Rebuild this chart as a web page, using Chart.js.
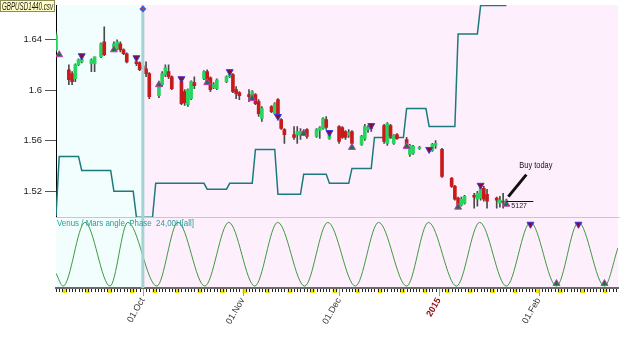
<!DOCTYPE html>
<html>
<head>
<meta charset="utf-8">
<script src="https://cdn.jsdelivr.net/npm/chart.js@4.4.1/dist/chart.umd.min.js"></script>
<style>
  html, body { margin: 0; padding: 0; background: #fff; }
  #wrap { width: 625px; height: 343px; position: relative; }
</style>
</head>
<body>
<div id="wrap"><canvas id="chart"></canvas></div>
<script>
/* ------------------------------
   Data
   ------------------------------ */
const candleDates = [
  '2014-09-04','2014-09-08','2014-09-09','2014-09-10','2014-09-11','2014-09-12','2014-09-15','2014-09-16',
  '2014-09-18','2014-09-19','2014-09-22','2014-09-23','2014-09-24','2014-09-25','2014-09-26','2014-09-29',
  '2014-09-30','2014-10-01','2014-10-02','2014-10-03','2014-10-06','2014-10-07','2014-10-08','2014-10-09',
  '2014-10-10','2014-10-13','2014-10-14','2014-10-15','2014-10-16','2014-10-17','2014-10-20','2014-10-21',
  '2014-10-22','2014-10-23','2014-10-24','2014-10-27','2014-10-28','2014-10-29','2014-10-30','2014-10-31',
  '2014-11-03','2014-11-04','2014-11-05','2014-11-06','2014-11-07','2014-11-10','2014-11-11','2014-11-12',
  '2014-11-13','2014-11-14','2014-11-17','2014-11-18','2014-11-19','2014-11-20','2014-11-21','2014-11-24',
  '2014-11-25','2014-11-26','2014-11-27','2014-11-28','2014-12-01','2014-12-02','2014-12-03','2014-12-04',
  '2014-12-05','2014-12-08','2014-12-09','2014-12-10','2014-12-11','2014-12-15','2014-12-16','2014-12-17',
  '2014-12-18','2014-12-19','2014-12-22','2014-12-23','2014-12-24','2014-12-26','2014-12-30','2014-12-31',
  '2015-01-02','2015-01-05','2015-01-06','2015-01-07','2015-01-08','2015-01-09','2015-01-12','2015-01-13',
  '2015-01-14','2015-01-15','2015-01-16','2015-01-19','2015-01-20','2015-01-21','2015-01-22'
];
const openP = [
  1.6321,1.6163,1.6132,1.6092,1.6203,1.6226,1.6211,1.6211,
  1.6266,1.6384,1.6345,1.6329,1.6368,1.6321,1.6290,1.6226,
  1.6218,1.6195,1.6171,1.6132,1.5958,1.6045,1.6124,1.6148,
  1.6108,1.6069,1.5990,1.5887,1.5935,1.6061,1.6092,1.6148,
  1.6100,1.6021,1.6013,1.6069,1.6108,1.6124,1.6006,1.5982,
  1.5966,1.5950,1.5966,1.5911,1.5777,1.5871,1.5816,1.5927,
  1.5769,1.5690,1.5650,1.5650,1.5643,1.5674,1.5690,1.5635,
  1.5682,1.5698,1.5769,1.5619,1.5714,1.5706,1.5674,1.5643,
  1.5674,1.5572,1.5619,1.5690,1.5706,1.5722,1.5579,1.5722,
  1.5579,1.5650,1.5611,1.5493,1.5501,1.5540,1.5524,1.5564,
  1.5532,1.5303,1.5240,1.5146,1.5090,1.5106,1.5169,1.5138,
  1.5146,1.5224,1.5177,1.5146,1.5106,1.5122,1.5114
];
const highP = [
  1.6463,1.6203,1.6148,1.6211,1.6250,1.6258,1.6250,1.6266,
  1.6376,1.6503,1.6384,1.6400,1.6384,1.6329,1.6297,1.6234,
  1.6226,1.6211,1.6226,1.6140,1.6037,1.6148,1.6203,1.6203,
  1.6116,1.6076,1.6006,1.6013,1.6076,1.6108,1.6156,1.6163,
  1.6108,1.6061,1.6092,1.6116,1.6163,1.6132,1.6029,1.5990,
  1.6006,1.5998,1.5974,1.5927,1.5871,1.5879,1.5903,1.5935,
  1.5777,1.5698,1.5714,1.5714,1.5698,1.5690,1.5698,1.5698,
  1.5714,1.5785,1.5793,1.5658,1.5722,1.5714,1.5682,1.5690,
  1.5682,1.5643,1.5730,1.5722,1.5722,1.5730,1.5745,1.5730,
  1.5650,1.5658,1.5627,1.5572,1.5564,1.5556,1.5580,1.5603,
  1.5540,1.5311,1.5248,1.5154,1.5154,1.5169,1.5185,1.5201,
  1.5232,1.5240,1.5217,1.5154,1.5161,1.5185,1.5138
];
const lowP = [
  1.6305,1.6045,1.6045,1.6069,1.6195,1.6218,1.6148,1.6148,
  1.6258,1.6274,1.6337,1.6321,1.6305,1.6282,1.6218,1.6195,
  1.6156,1.6148,1.6108,1.5935,1.5943,1.6029,1.6108,1.6092,
  1.6006,1.5887,1.5880,1.5872,1.5927,1.6013,1.6084,1.6045,
  1.5990,1.6013,1.6006,1.6061,1.6100,1.5982,1.5935,1.5927,
  1.5911,1.5943,1.5887,1.5793,1.5753,1.5824,1.5808,1.5800,
  1.5690,1.5579,1.5611,1.5579,1.5611,1.5650,1.5619,1.5627,
  1.5619,1.5690,1.5690,1.5611,1.5579,1.5619,1.5611,1.5627,
  1.5572,1.5564,1.5603,1.5666,1.5674,1.5579,1.5564,1.5619,
  1.5572,1.5611,1.5564,1.5477,1.5493,1.5532,1.5516,1.5540,
  1.5311,1.5232,1.5130,1.5067,1.5083,1.5098,1.5067,1.5083,
  1.5130,1.5122,1.5067,1.5067,1.5075,1.5067,1.5106
];
const closeP = [
  1.6439,1.6084,1.6069,1.6203,1.6242,1.6250,1.6242,1.6266,
  1.6368,1.6282,1.6368,1.6384,1.6321,1.6290,1.6226,1.6211,
  1.6163,1.6171,1.6132,1.5950,1.6029,1.6132,1.6179,1.6108,
  1.6013,1.5895,1.5903,1.6006,1.6069,1.6037,1.6148,1.6069,
  1.6006,1.6045,1.6084,1.6108,1.6140,1.5990,1.5974,1.5958,
  1.5950,1.5990,1.5895,1.5816,1.5856,1.5832,1.5895,1.5808,
  1.5698,1.5650,1.5627,1.5674,1.5674,1.5658,1.5635,1.5690,
  1.5706,1.5777,1.5706,1.5650,1.5595,1.5627,1.5627,1.5666,
  1.5579,1.5635,1.5714,1.5706,1.5698,1.5595,1.5737,1.5635,
  1.5643,1.5619,1.5572,1.5564,1.5556,1.5548,1.5572,1.5580,
  1.5319,1.5240,1.5138,1.5083,1.5138,1.5161,1.5154,1.5185,
  1.5224,1.5138,1.5122,1.5130,1.5130,1.5114,1.5130
];

/* step indicator (corners of the steps) */
const stepDates = [
  '2014-09-04','2014-09-05','2014-09-11','2014-09-12','2014-09-21','2014-09-22','2014-09-28','2014-09-29',
  '2014-10-04','2014-10-05','2014-10-20','2014-10-21','2014-10-27','2014-10-28','2014-11-04','2014-11-05',
  '2014-11-11','2014-11-12','2014-11-19','2014-11-20','2014-11-27','2014-11-28','2014-12-04','2014-12-05',
  '2014-12-11','2014-12-12','2014-12-21','2014-12-22','2014-12-28','2014-12-29','2015-01-06','2015-01-07',
  '2015-01-13','2015-01-14','2015-01-22'
];
const stepValues = [
  1.5004,1.5477,1.5477,1.5366,1.5366,1.5201,1.5201,1.4995,
  1.4995,1.5264,1.5264,1.5217,1.5217,1.5264,1.5264,1.5532,
  1.5532,1.5177,1.5177,1.5335,1.5335,1.5264,1.5264,1.5382,
  1.5382,1.5627,1.5627,1.5856,1.5856,1.5714,1.5714,1.6447,
  1.6447,1.6672,1.6672
];

/* signal triangles on the price pane */
const buyDates  = ['2014-09-05','2014-09-22','2014-10-06','2014-10-21','2014-11-04','2014-11-20','2014-12-05','2014-12-22','2015-01-07','2015-01-22'];
const buyValues = [1.6282,1.6321,1.6045,1.6061,1.5935,1.5658,1.5548,1.5556,1.5075,1.5098];
const sellDates  = ['2014-09-12','2014-09-29','2014-10-13','2014-10-28','2014-11-12','2014-11-28','2014-12-11','2014-12-29','2015-01-14'];
const sellValues = [1.6274,1.6258,1.6092,1.6148,1.5793,1.5666,1.5721,1.5532,1.5248];

/* Venus / Mars angle wave: turning points */
const waveDates = [
  '2014-09-04T00:00','2014-09-06T05:00','2014-09-13T00:00','2014-09-20T19:00','2014-09-26T08:00',
  '2014-10-05T08:00','2014-10-11T22:00','2014-10-20T06:00','2014-10-27T17:00','2014-11-04T19:00',
  '2014-11-11T22:00','2014-11-20T07:00','2014-11-27T12:00','2014-12-06T02:00','2014-12-13T07:00',
  '2014-12-22T00:00','2014-12-28T19:00','2015-01-06T12:00','2015-01-13T17:00','2015-01-22T00:00',
  '2015-01-29T12:00','2015-02-06T14:00','2015-02-13T10:00','2015-02-21T12:00','2015-02-25T17:00'
];
const waveValues = [0.2,0,1,0,1, 0,1,0,1,0, 1,0,1,0,1, 0,1,0,1,0, 1,0,1,0,0.6];
const waveSellDates = ['2015-01-29T12:00','2015-02-13T10:00'];
const waveSellValues = [0.97, 0.97];
const waveBuyDates = ['2015-02-06T14:00','2015-02-21T12:00'];
const waveBuyValues = [0.04, 0.04];

/* axes */
const monthStarts = ['2014-10-01','2014-11-01','2014-12-01','2015-01-01','2015-02-01'];
const monthLabels = ['01.Oct','01.Nov','01.Dec','2015','01.Feb'];
const yTicks = [1.52, 1.56, 1.6, 1.64];
const xRange = ['2014-09-04', '2015-02-25T17:00'];
const yRange = [1.4995, 1.6676];
const splitDate = '2014-10-01';

/* annotation */
const buyToday = { date: '2015-01-22', price: 1.5127, text: 'Buy today', label: '5127' };

/* ------------------------------
   Helpers
   ------------------------------ */
const DAY0 = Date.UTC(2014, 9, 1);
const dayOf = (s) => (Date.parse(s.length > 10 ? s + ':00Z' : s + 'T00:00:00Z') - DAY0) / 864e5;
const pts = (dates, vals) => dates.map((d, i) => ({ x: dayOf(d), y: vals[i] }));
const FONT = '"Liberation Sans", Arial, sans-serif';
const noPad = (s) => { s.paddingTop = 0; s.paddingBottom = 0; s.paddingLeft = 0; s.paddingRight = 0; };

function fitText(ctx, text, x, y, maxW) {
  const w = ctx.measureText(text).width;
  const k = w > maxW ? maxW / w : 1;
  ctx.save();
  ctx.translate(x, y);
  ctx.scale(k, 1);
  ctx.fillText(text, 0, 0);
  ctx.restore();
}

/* ------------------------------
   Decorations plugin
   ------------------------------ */
const deco = {
  id: 'deco',
  beforeDraw(chart) {
    const { ctx, chartArea: a, scales: { x } } = chart;
    const xs = x.getPixelForValue(dayOf(splitDate));
    ctx.save();
    ctx.fillStyle = '#f2fefd';
    ctx.fillRect(a.left, a.top, xs - a.left, a.bottom - a.top);
    ctx.fillStyle = '#fdf0fc';
    ctx.fillRect(xs, a.top, a.right - xs, a.bottom - a.top);
    ctx.restore();
  },
  afterDatasetsDraw(chart) {
    const { ctx, chartArea: a, scales: { x, y, yOsc } } = chart;
    ctx.save();
    // pane separator
    ctx.strokeStyle = '#c8c8c8';
    ctx.lineWidth = 1;
    ctx.beginPath();
    ctx.moveTo(a.left, Math.round(yOsc.top) + 0.5);
    ctx.lineTo(a.right + 2, Math.round(yOsc.top) + 0.5);
    ctx.stroke();

    // split line
    const xs = x.getPixelForValue(dayOf(splitDate));
    ctx.strokeStyle = '#a3d3d3';
    ctx.lineWidth = 3;
    ctx.beginPath();
    ctx.moveTo(xs, a.top);
    ctx.lineTo(xs, a.bottom);
    ctx.stroke();

    // diamond marker on top of the split line
    const dy = a.top + 4;
    ctx.fillStyle = '#3a58e0';
    ctx.beginPath();
    ctx.moveTo(xs, dy - 3.5); ctx.lineTo(xs + 3.5, dy); ctx.lineTo(xs, dy + 3.5); ctx.lineTo(xs - 3.5, dy);
    ctx.closePath();
    ctx.fill();
    ctx.fillStyle = '#e03030';
    ctx.fillRect(xs - 1, dy - 1, 2, 2);

    // oscillator caption
    ctx.fillStyle = '#2a9c9c';
    ctx.font = '9px ' + FONT;
    fitText(ctx, 'Venus / Mars angle  Phase  24,00H[all]', a.left + 1, yOsc.top + 9, 137);

    // "Buy today" annotation
    const bx = x.getPixelForValue(dayOf(buyToday.date));
    const by = y.getPixelForValue(buyToday.price);
    ctx.strokeStyle = '#111';
    ctx.lineWidth = 1;
    ctx.beginPath();
    ctx.moveTo(bx, Math.round(by) + 0.5);
    ctx.lineTo(bx + 27, Math.round(by) + 0.5);
    ctx.stroke();
    ctx.fillStyle = '#222';
    ctx.font = '7px ' + FONT;
    ctx.fillText(buyToday.label, bx + 5, by + 7);
    ctx.lineWidth = 3;
    ctx.beginPath();
    ctx.moveTo(bx + 20, by - 26);
    ctx.lineTo(bx + 2, by - 4);
    ctx.stroke();
    ctx.font = '9px ' + FONT;
    ctx.fillStyle = '#111';
    fitText(ctx, buyToday.text, bx + 13, by - 33, 33);
    ctx.restore();
  },
  afterDraw(chart) {
    const { ctx, chartArea: a, scales: { x } } = chart;
    const yb = a.bottom;
    ctx.save();
    // weekend marks
    ctx.fillStyle = '#f4e400';
    for (let d = Math.ceil(x.min); d <= x.max; d++) {
      if (((d % 7) + 7) % 7 === 3) {
        const p0 = x.getPixelForValue(d);
        const p1 = Math.min(x.getPixelForValue(d + 1) + 1.5, a.right);
        ctx.fillRect(p0, yb + 1, p1 - p0, 4);
      }
    }
    // daily ticks
    ctx.strokeStyle = '#222';
    ctx.lineWidth = 1;
    ctx.beginPath();
    for (let d = Math.ceil(x.min); d <= x.max; d++) {
      const p = Math.round(x.getPixelForValue(d)) + 0.5;
      ctx.moveTo(p, yb + 1);
      ctx.lineTo(p, yb + 4);
    }
    ctx.stroke();
    // month ticks
    ctx.strokeStyle = '#f07878';
    ctx.beginPath();
    monthStarts.forEach((m) => {
      const p = Math.round(x.getPixelForValue(dayOf(m))) + 0.5;
      ctx.moveTo(p, yb + 1);
      ctx.lineTo(p, yb + 8);
    });
    ctx.stroke();

    // file name box
    ctx.font = 'italic 10px ' + FONT;
    ctx.fillStyle = '#ffffc4';
    ctx.fillRect(0, 0, 55, 12);
    ctx.strokeStyle = '#8c8c5a';
    ctx.lineWidth = 1;
    ctx.strokeRect(0.5, 0.5, 54, 11);
    ctx.fillStyle = '#1a1a1a';
    fitText(ctx, 'GBPUSD1440.csv', 2, 10, 51);
    ctx.restore();
  }
};

/* ------------------------------
   Chart
   ------------------------------ */
const UP = '#25d55e', DOWN = '#c81a1a';
const isUp = (i) => closeP[i] >= openP[i];

new Chart(document.getElementById('chart'), {
  type: 'bar',
  data: {
    datasets: [
      {
        type: 'line', label: 'buy', order: 0, showLine: false,
        data: pts(buyDates, buyValues),
        pointStyle: 'triangle', pointRadius: 4, pointBorderWidth: 1,
        pointBackgroundColor: '#137a2c', pointBorderColor: '#c03cc0'
      },
      {
        type: 'line', label: 'sell', order: 0, showLine: false,
        data: pts(sellDates, sellValues),
        pointStyle: 'triangle', pointRotation: 180, pointRadius: 4, pointBorderWidth: 1,
        pointBackgroundColor: '#8c0a2c', pointBorderColor: '#3a3ae0'
      },
      {
        type: 'bar', label: 'body', order: 1, grouped: false,
        data: candleDates.map((d, i) => ({ x: dayOf(d), y: [openP[i], closeP[i]] })),
        barThickness: 3, minBarLength: 1,
        backgroundColor: (c) => isUp(c.dataIndex) ? UP : DOWN
      },
      {
        type: 'bar', label: 'wick', order: 2, grouped: false,
        data: candleDates.map((d, i) => ({ x: dayOf(d), y: [lowP[i], highP[i]] })),
        barThickness: 1,
        backgroundColor: '#4a4a4a'
      },
      {
        type: 'line', label: 'step', order: 3,
        data: pts(stepDates, stepValues),
        borderColor: '#1b7a7b', borderWidth: 1.5, pointRadius: 0, tension: 0
      },
      {
        type: 'line', label: 'wave', order: 3, yAxisID: 'yOsc',
        data: pts(waveDates, waveValues),
        borderColor: '#3f9a3f', borderWidth: 1, pointRadius: 0,
        cubicInterpolationMode: 'monotone'
      },
      {
        type: 'line', label: 'wave sell', order: 0, yAxisID: 'yOsc', showLine: false,
        data: pts(waveSellDates, waveSellValues),
        pointStyle: 'triangle', pointRotation: 180, pointRadius: 4, pointBorderWidth: 1,
        pointBackgroundColor: '#8c0a2c', pointBorderColor: '#3a3ae0'
      },
      {
        type: 'line', label: 'wave buy', order: 0, yAxisID: 'yOsc', showLine: false,
        data: pts(waveBuyDates, waveBuyValues),
        pointStyle: 'triangle', pointRadius: 4, pointBorderWidth: 1,
        pointBackgroundColor: '#137a2c', pointBorderColor: '#c03cc0'
      }
    ]
  },
  options: {
    responsive: true,
    maintainAspectRatio: false,
    animation: false,
    events: [],
    layout: { padding: { top: 3, right: 7, left: 0, bottom: 0 } },
    plugins: { legend: { display: false }, tooltip: { enabled: false } },
    scales: {
      x: {
        type: 'linear', position: 'bottom', offset: false,
        min: dayOf(xRange[0]), max: dayOf(xRange[1]),
        afterBuildTicks: (s) => { s.ticks = monthStarts.map((m) => ({ value: dayOf(m) })); },
        afterFit: (s) => { s.height = 55; noPad(s); },
        grid: { display: true, drawOnChartArea: false, color: 'rgba(0,0,0,0)', tickLength: 5 },
        border: { display: true, color: '#6a6a6a', width: 2 },
        ticks: {
          autoSkip: false, minRotation: 60, maxRotation: 60, padding: 3,
          callback: (v, i) => monthLabels[i],
          color: (c) => monthLabels[c.index] === '2015' ? '#8b1010' : '#333',
          font: (c) => ({ size: 9, family: FONT, weight: monthLabels[c.index] === '2015' ? 'bold' : 'normal' })
        }
      },
      y: {
        type: 'linear', position: 'left', stack: 'pane', stackWeight: 3, weight: 1,
        min: yRange[0], max: yRange[1],
        afterBuildTicks: (s) => { s.ticks = yTicks.map((v) => ({ value: v })); },
        afterFit: (s) => { s.width = 56; noPad(s); },
        grid: { drawOnChartArea: false, color: '#555', tickLength: 11 },
        border: { display: true, color: '#000', width: 1 },
        ticks: {
          padding: 3, color: '#222', font: { size: 9.5, family: FONT },
          callback: (v) => String(+v.toFixed(2))
        }
      },
      yOsc: {
        type: 'linear', position: 'left', stack: 'pane', stackWeight: 1, weight: 0,
        min: -0.03, max: 1.08,
        afterFit: (s) => { s.width = 56; noPad(s); },
        grid: { display: false },
        border: { display: false },
        ticks: { display: false }
      }
    }
  },
  plugins: [deco]
});
</script>
</body>
</html>
